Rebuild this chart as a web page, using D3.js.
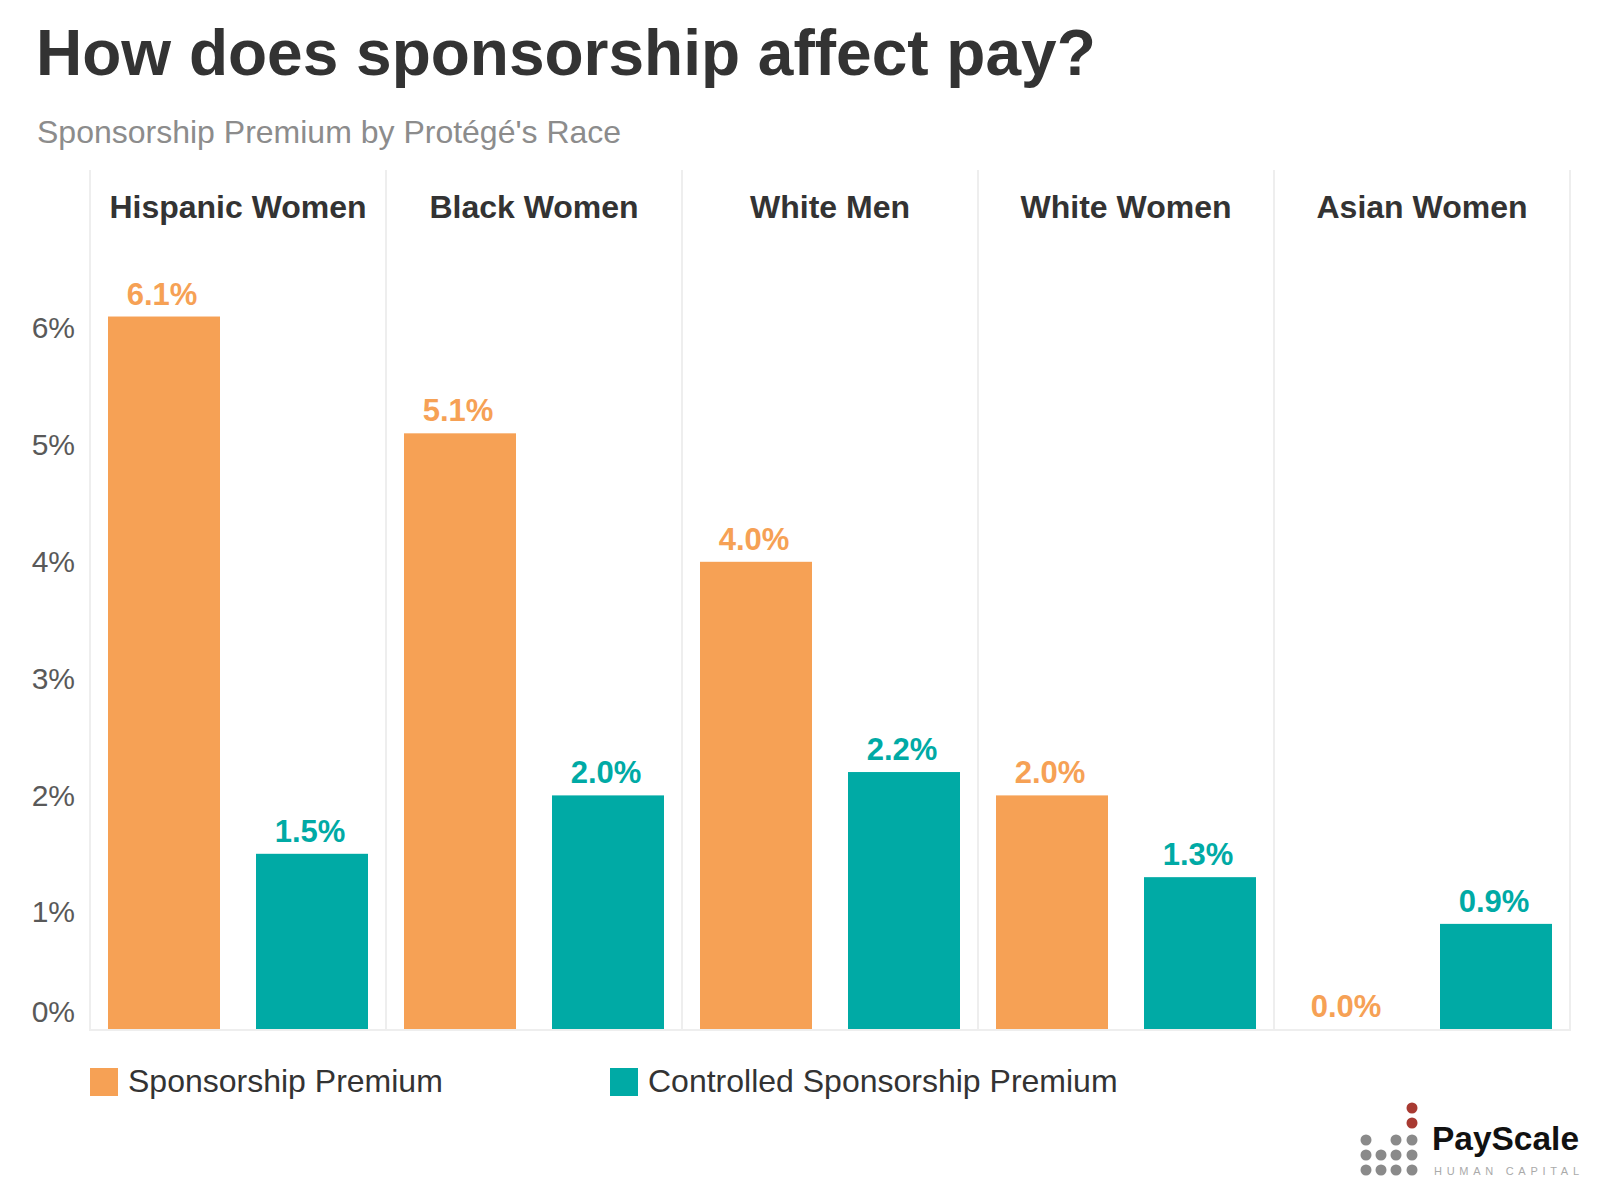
<!DOCTYPE html>
<html>
<head>
<meta charset="utf-8">
<script src="https://cdn.jsdelivr.net/npm/d3@7"></script>
<style>
  html, body { margin: 0; padding: 0; background: #ffffff; }
  svg { display: block; font-family: "Liberation Sans", Arial, Helvetica, sans-serif; }
</style>
</head>
<body>
<svg id="chart" width="1600" height="1200"></svg>
<script>
// ---- data ----
const categories = ["Hispanic Women", "Black Women", "White Men", "White Women", "Asian Women"];
const seriesNames = ["Sponsorship Premium", "Controlled Sponsorship Premium"];
const sponsorshipPremium = [6.1, 5.1, 4.0, 2.0, 0.0];
const controlledPremium = [1.5, 2.0, 2.2, 1.3, 0.9];
const yTicks = [0, 1, 2, 3, 4, 5, 6];
const titleText = "How does sponsorship affect pay?";
const subtitleText = "Sponsorship Premium by Protégé's Race";

const colors = { "Sponsorship Premium": "#F6A155", "Controlled Sponsorship Premium": "#00AAA5" };

const rows = categories.map((c, i) => ({
  category: c,
  values: [
    { series: seriesNames[0], value: sponsorshipPremium[i] },
    { series: seriesNames[1], value: controlledPremium[i] }
  ]
}));

const svg = d3.select("#chart");

// ---- layout ----
const plotLeft = 90, plotRight = 1570, panelTop = 170, baseY = 1029;

const x0 = d3.scaleBand().domain(categories).range([plotLeft, plotRight]).padding(0);
const x1 = d3.scaleBand().domain(seriesNames).range([0, x0.bandwidth()])
  .paddingInner(36 / 148).paddingOuter(18 / 148);
const y = d3.scaleLinear().domain([0, 7]).range([baseY, baseY - 7 * 116.8]);

// ---- title ----
svg.append("text").attr("x", 36).attr("y", 75)
  .attr("font-size", 64).attr("font-weight", "bold").attr("fill", "#333333")
  .text(titleText);
svg.append("text").attr("x", 37).attr("y", 143)
  .attr("font-size", 32).attr("fill", "#8C8C8C")
  .text(subtitleText);

// ---- panel dividers ----
const dividerXs = categories.map(c => x0(c)).concat([plotRight]);
svg.append("g").selectAll("line").data(dividerXs).join("line")
  .attr("x1", d => d).attr("x2", d => d)
  .attr("y1", panelTop).attr("y2", baseY + 2)
  .attr("stroke", "#EEEEEE").attr("stroke-width", 2);

// baseline
svg.append("line")
  .attr("x1", plotLeft).attr("x2", plotRight + 1)
  .attr("y1", baseY + 1).attr("y2", baseY + 1)
  .attr("stroke", "#EEEEEE").attr("stroke-width", 2);

// ---- headers ----
svg.append("g").selectAll("text").data(categories).join("text")
  .attr("x", d => x0(d) + x0.bandwidth() / 2)
  .attr("y", 218)
  .attr("text-anchor", "middle")
  .attr("font-size", 32).attr("font-weight", "bold").attr("fill", "#333333")
  .text(d => d);

// ---- y axis ----
const yAxis = d3.axisLeft(y).tickValues(yTicks).tickSize(0).tickPadding(0)
  .tickFormat(d => d + "%");
const gy = svg.append("g").attr("transform", "translate(75,0)").call(yAxis);
gy.select(".domain").remove();
gy.selectAll("text")
  .attr("font-size", 30).attr("fill", "#595959")
  .attr("font-family", "'Liberation Sans', Arial, Helvetica, sans-serif");
gy.selectAll(".tick").filter(d => d === 0).select("text").attr("dy", "-0.25em");

// ---- bars ----
const groups = svg.append("g").selectAll("g").data(rows).join("g")
  .attr("transform", d => `translate(${x0(d.category)},0)`);

groups.selectAll("rect").data(d => d.values).join("rect")
  .attr("x", d => x1(d.series))
  .attr("width", x1.bandwidth())
  .attr("y", d => y(d.value))
  .attr("height", d => y(0) - y(d.value))
  .attr("fill", d => colors[d.series]);

groups.selectAll("text.val").data(d => d.values).join("text")
  .attr("class", "val")
  .attr("x", d => x1(d.series) + x1.bandwidth() / 2 - 2)
  .attr("y", d => y(d.value) - 12)
  .attr("text-anchor", "middle")
  .attr("font-size", 31).attr("font-weight", "bold")
  .attr("fill", d => colors[d.series])
  .text(d => d.value.toFixed(1) + "%");

// ---- legend ----
const legendXs = [90, 610];
const lg = svg.append("g").selectAll("g").data(seriesNames).join("g")
  .attr("transform", (d, i) => `translate(${legendXs[i]},1068)`);
lg.append("rect").attr("width", 28).attr("height", 28).attr("fill", d => colors[d]);
lg.append("text").attr("x", 38).attr("y", 12).attr("dy", "0.36em")
  .attr("font-size", 32).attr("fill", "#333333").text(d => d);

// ---- logo ----
const logo = svg.append("g");
const dotCols = [1366, 1381, 1396, 1412];
const dotRows = [1140, 1155, 1170];
const dotGrid = [[1, 0, 1, 1], [1, 1, 1, 1], [1, 1, 1, 1]];
const dots = [];
dotGrid.forEach((r, ri) => r.forEach((v, ci) => { if (v) dots.push({ x: dotCols[ci], y: dotRows[ri], c: "#8A8A8A" }); }));
dots.push({ x: 1412, y: 1108, c: "#A83A32" }, { x: 1412, y: 1123, c: "#A83A32" });
logo.selectAll("circle").data(dots).join("circle")
  .attr("cx", d => d.x).attr("cy", d => d.y).attr("r", 5.5).attr("fill", d => d.c);
logo.append("text").attr("x", 1432).attr("y", 1150)
  .attr("font-size", 33).attr("font-weight", "bold").attr("fill", "#111111")
  .attr("textLength", 147).attr("lengthAdjust", "spacingAndGlyphs")
  .text("PayScale");
logo.append("text").attr("x", 1434).attr("y", 1175)
  .attr("font-size", 11).attr("fill", "#AAAAAA")
  .attr("textLength", 145).attr("lengthAdjust", "spacing")
  .text("HUMAN CAPITAL");
</script>
</body>
</html>
